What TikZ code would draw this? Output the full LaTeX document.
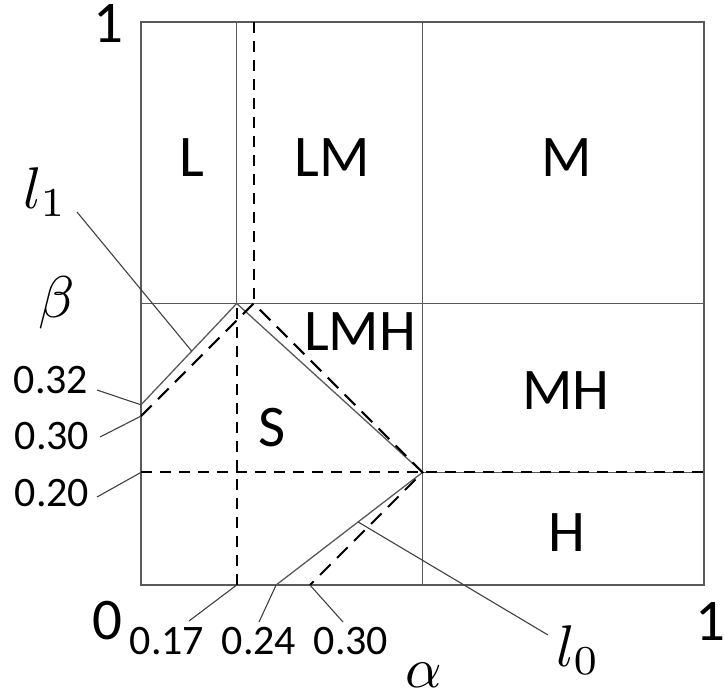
\documentclass[tikz,border=0pt]{standalone}
\usepackage{fontspec}
\newfontfamily\calib{Carlito}
\begin{document}
\begin{tikzpicture}[x=1bp,y=-1bp,
  grayline/.style={draw=black!65, line width=1.3bp},
  dashline/.style={draw=black, line width=2bp, dash pattern=on 11bp off 8bp},
  ddash/.style={draw=black, line width=2bp, dash pattern=on 15bp off 9bp},
  leader/.style={draw=black!75, line width=1.1bp},
  big/.style={inner sep=0pt, font=\calib\fontsize{59bp}{61bp}\selectfont},
  small/.style={inner sep=0pt, font=\calib\fontsize{42bp}{44bp}\selectfont},
  mlbl/.style={inner sep=0pt}]
\useasboundingbox (0,0) rectangle (725,697);

% text labels
\node[big] (one) at (108,24) {1};
\node[big] (zero) at (107,621) {0};
\node[big] (oner) at (710,622) {1};
\node[big] (L) at (192,158) {L};
\node[big] (LM) at (332,158) {LM};
\node[big] (M) at (567,158) {M};
\node[big] (LMH) at (360,332) {LMH};
\node[big] (MH) at (566,391) {MH};
\node[big] (S) at (272,428) {S};
\node[big] (H) at (567,533) {H};
\node[small] (b32) at (51,380) {0.32};
\node[small] (b30) at (52,436) {0.30};
\node[small] (b20) at (52,493) {0.20};
\node[small] (a17) at (167,641) {0.17};
\node[small] (a24) at (259,641) {0.24};
\node[small] (a30) at (351,641) {0.30};
\node[mlbl] (beta) at (57,303) {\scalebox{5.9}{$\beta$}};
\node[mlbl] (alpha) at (424,675) {\scalebox{5.7}{$\alpha$}};
\node[mlbl] (lone) at (45,192) {\scalebox{5.9}{$l_1$}};
\node[mlbl] (lzero) at (578,650) {\scalebox{5.9}{$l_0$}};

% leader start points
\coordinate (s32) at (97,390);
\coordinate (s30) at (100,437);
\coordinate (s20) at (97,497);
\coordinate (s17) at (189,621);
\coordinate (s24) at (259,622);
\coordinate (s30b) at (343,622);
\coordinate (sl1) at (77,212);
\coordinate (sl0) at (548,635);

\begin{scope}[shift={(141,585)}, x=563bp, y=563bp]
  \coordinate (O) at (0,0);
  \coordinate (TR) at (1,1);
  \coordinate (peak) at (0.17,0.5);
  \coordinate (top17) at (0.17,1);
  \coordinate (bot17) at (0.17,0);
  \coordinate (top20) at (0.2,1);
  \coordinate (mid20) at (0.2,0.5);
  \coordinate (top50) at (0.5,1);
  \coordinate (bot50) at (0.5,0);
  \coordinate (left50) at (0,0.5);
  \coordinate (right50) at (1,0.5);
  \coordinate (left20) at (0,0.2);
  \coordinate (right20) at (1,0.2);
  \coordinate (knee) at (0.5,0.2);
  \coordinate (y32) at (0,0.32);
  \coordinate (y30) at (0,0.30);
  \coordinate (x24) at (0.24,0);
  \coordinate (x30) at (0.30,0);

  % solid grey structure
  \draw[grayline] (O) rectangle (TR);
  \draw[grayline] (peak) -- (top17);
  \draw[grayline] (bot50) -- (top50);
  \draw[grayline] (left50) -- (right50);
  \draw[grayline] (knee) -- (right20);
  \draw[grayline] (y32) -- (peak) -- (knee);
  \draw[grayline] (x24) -- (knee);

  % dashed lines
  \draw[dashline] (top20) -- (mid20);
  \draw[dashline] (bot17) -- (peak);
  \draw[dashline] (left20) -- (right20);
  \draw[ddash] (y30) -- (mid20) -- (knee) -- (x30);

  % points on l1 and l0 for leaders
  \path (y32) -- (peak) coordinate[pos=0.53] (onl1);
  \path (x24) -- (knee) coordinate[pos=0.56] (onl0);
\end{scope}

% leaders
\draw[leader] (s32) -- (y32);
\draw[leader] (s30) -- (y30);
\draw[leader] (s20) -- (left20);
\draw[leader] (s17) -- (bot17);
\draw[leader] (s24) -- (x24);
\draw[leader] (s30b) -- (x30);
\draw[leader] (sl1) -- (onl1);
\draw[leader] (sl0) -- (onl0);
\end{tikzpicture}
\end{document}
